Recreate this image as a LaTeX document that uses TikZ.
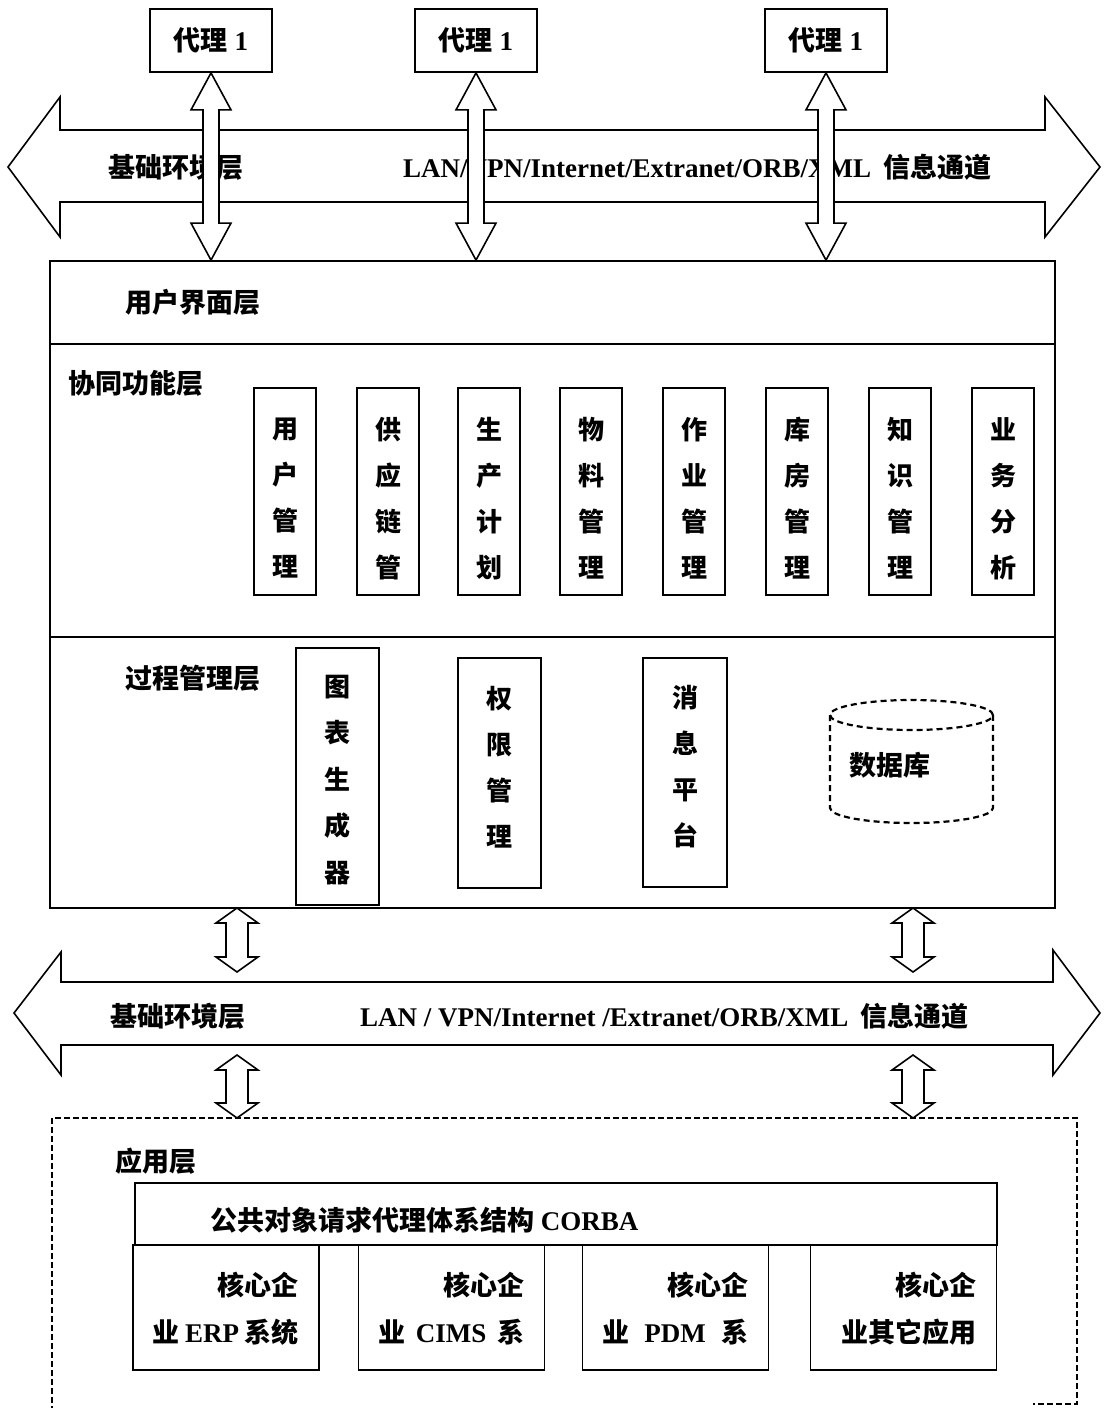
\documentclass[tikz,border=0pt]{standalone}
\usepackage{fontspec}
\setmainfont{Liberation Serif}
\newfontfamily\cjk{Noto Sans CJK SC}
\usetikzlibrary{calc}
\newcommand\zh{\cjk\bfseries\fontsize{27}{32}\selectfont}
\newcommand\en{\rmfamily\bfseries\fontsize{27}{32}\selectfont}
\newcommand\vzh{\cjk\bfseries\fontsize{26}{46}\selectfont}
% vertical double block arrow: #1 top point, #2 bottom point, #3 head half width, #4 shaft half width, #5 head length
\newcommand\vdarrow[5]{%
  \draw[blk] let \p1=(#1), \p2=(#2) in
    (\x1,\y1) -- (\x1+#3,\y1-#5) -- (\x1+#4,\y1-#5) -- (\x1+#4,\y2+#5) -- (\x1+#3,\y2+#5)
    -- (\x1,\y2) -- (\x1-#3,\y2+#5) -- (\x1-#4,\y2+#5) -- (\x1-#4,\y1-#5) -- (\x1-#3,\y1-#5) -- cycle;}
\begin{document}
\begin{tikzpicture}[x=1pt,y=-1pt,
  box/.style={draw, line width=1.8pt, inner sep=0pt},
  blk/.style={draw, line width=1.6pt, fill=white, line join=miter},
  lbl/.style={inner sep=0pt, anchor=west},
  vtxt/.style={inner sep=0pt, align=center, font=\vzh},
  dbline/.style={line width=2.2pt, dash pattern=on 6pt off 4pt},
  appline/.style={line width=1.4pt, dash pattern=on 6pt off 3pt},
]
\useasboundingbox (0,0) rectangle (1110,1408);
\fill[white] (0,0) rectangle (1110,1408);

% upper information channel
\draw[blk] (8,167) -- (60,97) -- (60,130) -- (1045,130) -- (1045,97) -- (1100,167)
  -- (1045,237) -- (1045,202) -- (60,202) -- (60,237) -- cycle;
\node[lbl, font=\zh] (ch1a) at (108,167) {基础环境层};
\node[lbl] (ch1b) at (403,167) {{\en LAN/VPN/Internet/Extranet/ORB/XML}\hspace{12pt}{\zh 信息通道}};

% agents
\node[box, minimum width=122pt, minimum height=63pt, font=\zh] (a1) at (211,40.5) {代理{\en\ 1}};
\node[box, minimum width=122pt, minimum height=63pt, font=\zh] (a2) at (476,40.5) {代理{\en\ 1}};
\node[box, minimum width=122pt, minimum height=63pt, font=\zh] (a3) at (826,40.5) {代理{\en\ 1}};

% main block
\node[box, minimum width=1005pt, minimum height=647pt] (main) at (552.5,584.5) {};
\draw[line width=1.8pt] (50,344) -- (1055,344);
\draw[line width=1.8pt] (50,637) -- (1055,637);

\vdarrow{a1.south}{main.north}{20pt}{8pt}{37pt}
\vdarrow{a2.south}{main.north}{20pt}{8pt}{37pt}
\vdarrow{a3.south}{main.north}{20pt}{8pt}{37pt}

\node[lbl, font=\zh] (ui) at (125,302) {用户界面层};
\node[lbl, font=\zh] (co) at (68,383) {协同功能层};
\node[lbl, font=\zh] (pm) at (125,678) {过程管理层};

\foreach \i/\x/\t in {1/254/{用\\户\\管\\理}, 2/357/{供\\应\\链\\管}, 3/458/{生\\产\\计\\划},
  4/560/{物\\料\\管\\理}, 5/663/{作\\业\\管\\理}, 6/766/{库\\房\\管\\理},
  7/869/{知\\识\\管\\理}, 8/972/{业\\务\\分\\析}}{
  \node[box, minimum width=62pt, minimum height=207pt] (f\i) at (\x+31,491.5) {};
  \node[vtxt] (ft\i) at ($(f\i.center)+(0,7)$) {\t};
}

\node[box, minimum width=83pt, minimum height=257pt] (p1) at (337.5,776.5) {};
\node[vtxt, font=\cjk\bfseries\fontsize{26}{46.5}\selectfont] (pt1) at ($(p1.center)+(0,3.5)$) {图\\表\\生\\成\\器};
\node[box, minimum width=83pt, minimum height=230pt] (p2) at (499.5,773) {};
\node[vtxt] (pt2) at ($(p2.center)+(0,-6)$) {权\\限\\管\\理};
\node[box, minimum width=84pt, minimum height=229pt] (p3) at (685,772.5) {};
\node[vtxt] (pt3) at ($(p3.center)+(0,-5.5)$) {消\\息\\平\\台};

% database
\draw[dbline] (911.5,715) ellipse [x radius=81.5pt, y radius=15pt];
\draw[dbline] (830,715) -- (830,808) arc[start angle=180, end angle=360, x radius=81.5pt, y radius=15pt] -- (993,715);
\node[font=\zh, inner sep=0pt] (db) at (890,765) {数据库};

% lower information channel
\draw[blk] (14,1013) -- (61,952) -- (61,982) -- (1053,982) -- (1053,950) -- (1100,1013)
  -- (1053,1075) -- (1053,1045) -- (61,1045) -- (61,1075) -- cycle;
\node[lbl, font=\zh] (ch2a) at (110,1016) {基础环境层};
\node[lbl] (ch2b) at (360,1016) {{\en LAN / VPN/Internet /Extranet/ORB/XML}\hspace{12pt}{\zh 信息通道}};

% application layer
\draw[appline] (52,1412) -- (52,1118) -- (1077,1118) -- (1077,1404) -- (1033,1404);
\node[lbl, font=\zh] (app) at (115,1161) {应用层};
\node[box, minimum width=862pt, minimum height=62pt] (corba) at (566,1214) {};
\node[lbl] (corbat) at (210,1220) {{\zh 公共对象请求代理体系结构}{\en\ CORBA}};

\foreach \i/\x/\t in {1/226/{\makebox[146pt][s]{业 {\en ERP} 系统}},
  2/451.5/{\makebox[146pt][s]{业 {\en CIMS} 系}},
  3/675.5/{\makebox[146pt][s]{业 {\en PDM} 系}},
  4/903.5/{业其它应用}}{
  \node[box, minimum width=186pt, minimum height=125pt] (e\i) at (\x,1307.5) {};
  \node[inner sep=0pt, anchor=east, align=right, font=\cjk\bfseries\fontsize{27}{47}\selectfont]
    (et\i) at ($(e\i.east)+(-21,1)$) {核心企\\\t};
}

% middle connectors
\coordinate (u1) at (237,908);  \coordinate (v1) at (237,972);
\coordinate (u2) at (913,908);  \coordinate (v2) at (913,972);
\coordinate (w1) at (237,1055); \coordinate (z1) at (237,1118);
\coordinate (w2) at (913,1055); \coordinate (z2) at (913,1118);
\vdarrow{u1}{v1}{21pt}{11pt}{15pt}
\vdarrow{u2}{v2}{21pt}{11pt}{15pt}
\vdarrow{w1}{z1}{21pt}{11pt}{15pt}
\vdarrow{w2}{z2}{21pt}{11pt}{15pt}
\end{tikzpicture}
\end{document}
